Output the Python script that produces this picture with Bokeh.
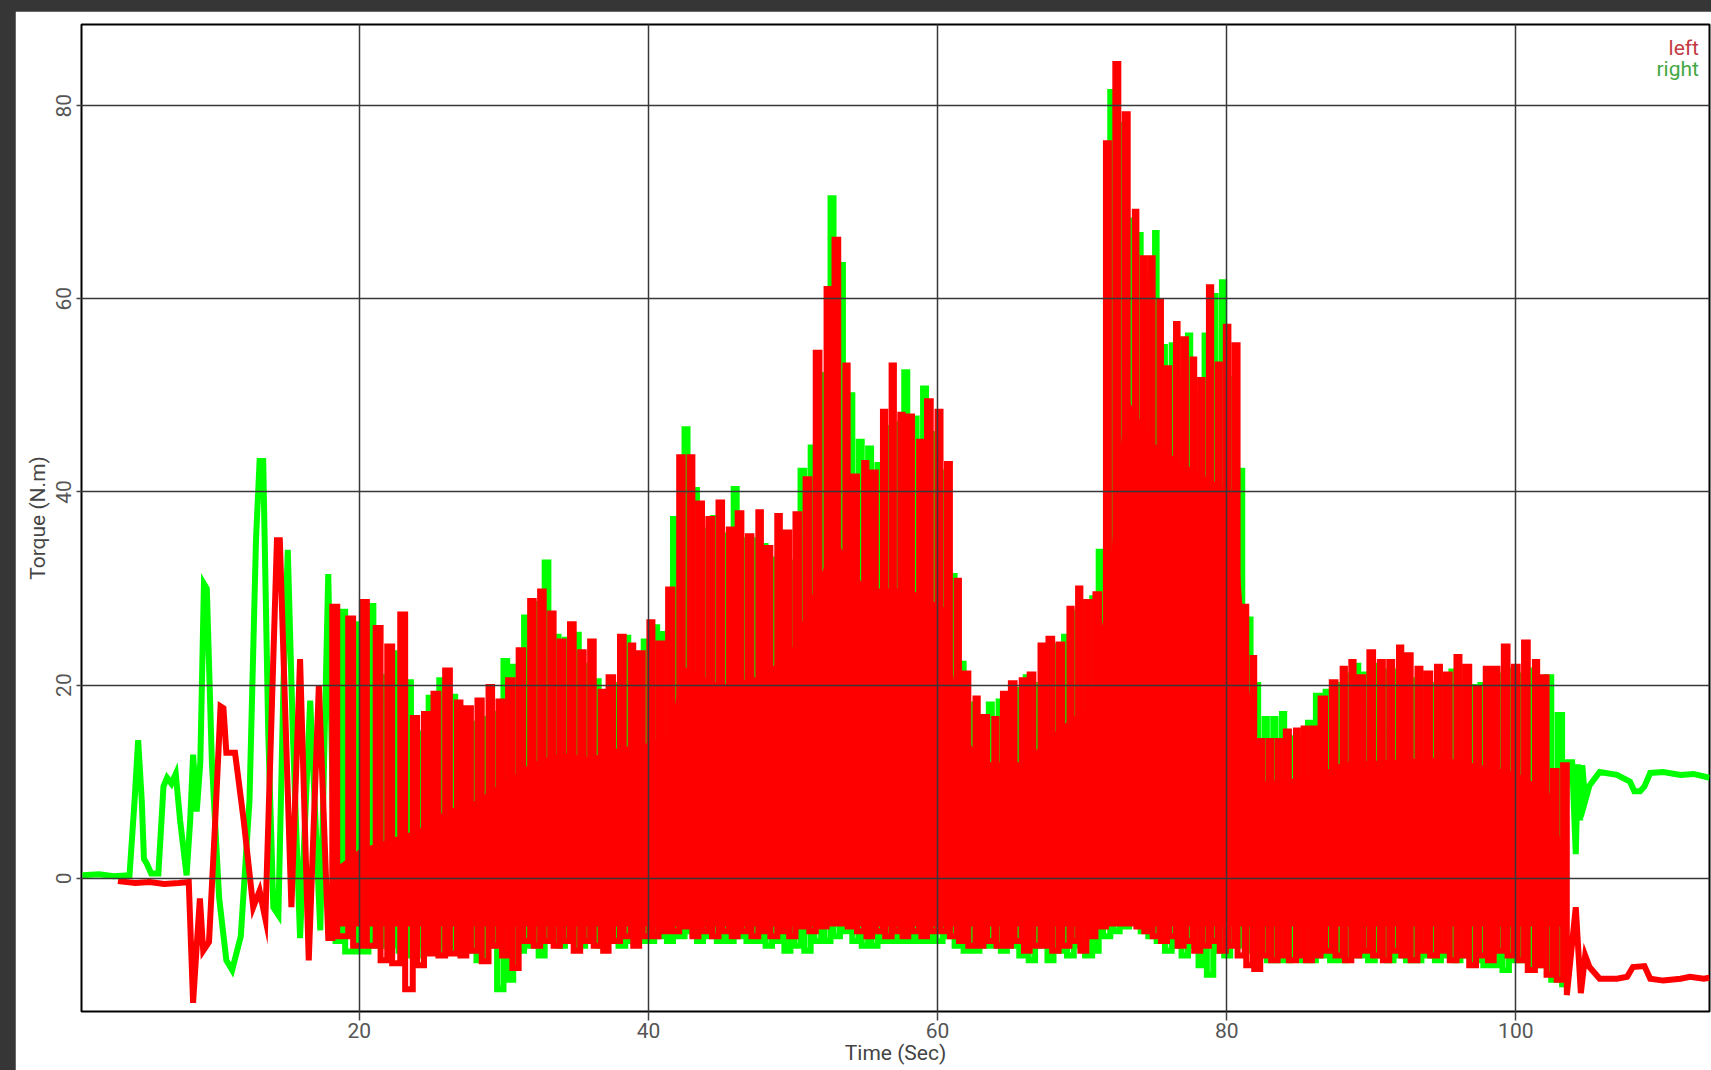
from bokeh.plotting import figure
from bokeh.models import Range1d, FixedTicker, Label
from bokeh.embed import file_html
from bokeh.resources import INLINE

# ---------------- data ----------------
# "left" (red) – slow start-up part, explicit samples
red_early_t = [3.3, 4.5, 5.5, 6.5, 7.5, 8.2, 8.5, 8.75, 8.97, 9.2, 9.6, 10.0, 10.4, 10.6,
               10.8, 11.4, 12.0, 12.66, 13.1, 13.5, 14.3, 14.5, 15.3, 15.9, 16.5, 17.2, 17.85]
red_early_v = [-0.3, -0.5, -0.4, -0.6, -0.5, -0.4, -12.9, -7.0, -2.1, -7.5, -6.6, 5.0, 17.8, 17.6,
               13.0, 13.0, 6.0, -3.0, -1.3, -4.2, 35.0, 35.0, -3.0, 22.7, -8.5, 20.0, -6.2]

# "left" (red) – walking cycles: time of each stroke, its top and its bottom
red_t = [18.3, 19.4, 20.35, 21.3, 22.1, 23.0, 23.85, 24.6, 25.3, 26.1,
         26.87, 27.56, 28.32, 29.06, 29.75, 30.44, 31.18, 31.94, 32.63, 33.32,
         34.0, 34.7, 35.4, 36.09, 36.78, 37.4, 38.16, 38.86, 39.48, 40.17,
         40.82, 41.51, 42.25, 42.94, 43.58, 44.27, 44.97, 45.66, 46.3, 47.0,
         47.69, 48.31, 49.0, 49.62, 50.3, 51.0, 51.7, 52.4, 53.0, 53.7,
         54.3, 55.0, 55.6, 56.3, 56.9, 57.5, 58.1, 58.8, 59.4, 60.1,
         60.75, 61.4, 62.0, 62.7, 63.3, 64.0, 64.6, 65.2, 65.9, 66.5,
         67.2, 67.8, 68.5, 69.2, 69.8, 70.4, 71.05, 71.75, 72.4, 73.05,
         73.7, 74.25, 74.8, 75.4, 75.95, 76.55, 77.1, 77.7, 78.25, 78.85,
         79.45, 80.03, 80.65, 81.3, 81.85, 82.4, 83.0, 83.6, 84.2, 84.85,
         85.4, 86.0, 86.65, 87.4, 88.1, 88.7, 89.3, 90.0, 90.7, 91.35,
         92.0, 92.6, 93.3, 93.95, 94.65, 95.3, 96.0, 96.65, 97.35, 98.0,
         98.6, 99.3, 100.0, 100.7, 101.4, 102.0, 102.7, 103.4]
red_peak = [28.1, 26.9, 28.6, 25.9, 24.0, 27.3, 16.6, 17.0, 19.1, 21.5,
            18.2, 17.6, 18.4, 19.8, 18.3, 20.5, 23.6, 28.7, 29.7, 27.4,
            24.5, 26.3, 23.4, 24.5, 19.3, 20.8, 25.0, 24.1, 23.3, 26.5,
            24.3, 29.9, 43.6, 43.6, 38.8, 37.2, 38.9, 36.1, 37.8, 35.4,
            37.9, 34.2, 37.5, 35.8, 37.7, 41.3, 54.4, 61.0, 66.1, 53.1,
            41.6, 43.0, 42.0, 48.3, 53.1, 48.0, 47.8, 45.2, 49.4, 48.3,
            42.9, 30.8, 21.2, 18.6, 16.7, 16.5, 19.1, 20.2, 20.5, 21.1,
            24.1, 24.8, 24.2, 27.9, 30.0, 28.6, 29.4, 76.1, 84.3, 79.1,
            69.0, 64.2, 64.2, 59.7, 52.8, 57.4, 55.8, 53.7, 51.6, 61.2,
            53.2, 57.1, 55.2, 28.1, 22.8, 14.2, 14.2, 14.2, 15.2, 15.3,
            15.5, 15.5, 18.6, 20.3, 21.7, 22.4, 20.8, 23.4, 22.4, 22.4,
            23.9, 23.1, 21.7, 21.2, 21.9, 21.1, 22.9, 21.9, 19.6, 21.7,
            21.7, 24.0, 21.9, 24.4, 22.4, 20.8, 11.1, 11.7]
red_trough = [-6.0, -7.0, -7.0, -8.5, -8.8, -11.5, -9.0, -7.8, -8.0, -7.8,
              -8.0, -7.5, -8.6, -7.0, -8.0, -9.3, -6.5, -7.0, -6.5, -7.0,
              -6.5, -7.5, -6.5, -7.0, -7.5, -6.5, -6.0, -7.0, -6.0, -6.0,
              -5.5, -5.5, -5.0, -6.0, -5.5, -6.0, -5.5, -6.0, -5.5, -6.0,
              -5.5, -6.0, -5.5, -6.0, -5.0, -5.5, -5.0, -4.5, -4.0, -5.0,
              -5.5, -6.0, -5.5, -6.0, -5.5, -6.0, -5.5, -6.0, -5.5, -5.5,
              -6.0, -6.5, -7.0, -7.0, -6.5, -7.0, -7.0, -6.5, -7.5, -7.0,
              -7.0, -7.5, -7.0, -6.5, -7.5, -6.0, -5.0, -4.5, -4.0, -4.5,
              -5.0, -5.5, -6.0, -6.5, -6.0, -7.0, -6.5, -7.5, -7.0, -6.5,
              -7.5, -7.0, -8.0, -9.0, -9.4, -8.0, -8.5, -8.0, -8.5, -8.0,
              -8.5, -8.0, -7.5, -8.0, -8.5, -8.0, -7.5, -8.0, -8.5, -7.5,
              -8.0, -8.5, -7.5, -8.0, -7.5, -8.5, -8.0, -9.0, -8.0, -8.5,
              -7.5, -8.0, -8.5, -9.5, -9.0, -10.0, -10.5, -12.1]
# level up to which the dense red trace looks solid (no gaps between strokes)
red_core_t = [18.3, 20.0, 22.0, 24.0, 26.0, 28.0, 30.0, 32.0, 34.0, 36.0,
              38.0, 40.0, 41.5, 42.3, 45.0, 48.0, 50.0, 51.5, 53.0, 55.0,
              58.0, 60.5, 61.5, 63.0, 66.0, 68.0, 70.5, 71.8, 73.0, 75.0,
              78.0, 80.5, 81.5, 82.5, 86.0, 88.0, 95.0, 100.0, 102.3, 103.4]
red_core_v = [1.0, 3.0, 4.0, 5.0, 7.0, 8.0, 10.0, 12.0, 13.0, 12.5,
              13.5, 14.0, 15.0, 22.0, 20.0, 21.0, 24.0, 30.0, 35.0, 30.0,
              30.0, 28.0, 16.0, 12.0, 12.0, 15.0, 18.0, 30.0, 50.0, 45.0,
              42.0, 40.0, 20.0, 10.0, 10.5, 12.0, 12.5, 11.0, 9.0, 2.0]
core_floor = -5.0
# "left" (red) – after stopping
red_tail_t = [104.15, 104.5, 104.8, 105.1, 105.8, 107.0, 107.7, 108.1, 108.9, 109.3,
              110.2, 111.4, 112.05, 113.0, 113.4]
red_tail_v = [-3.0, -11.9, -8.0, -9.2, -10.4, -10.4, -10.2, -9.2, -9.1, -10.4,
              -10.6, -10.4, -10.2, -10.4, -10.3]

# "right" (green) – start-up part
green_early_t = [0.85, 2.0, 3.0, 4.1, 4.45, 4.7, 4.95, 5.1, 5.3, 5.6,
                 6.1, 6.45, 6.7, 7.0, 7.3, 7.6, 8.05, 8.3, 8.5, 8.75,
                 9.0, 9.25, 9.45, 9.8, 10.3, 10.8, 11.2, 11.8, 12.4, 12.85,
                 13.1, 13.35, 13.7, 14.05, 14.4, 14.75, 15.05, 15.4, 15.9, 16.6,
                 17.3, 17.85, 18.35]
green_early_v = [0.3, 0.4, 0.2, 0.3, 8.0, 14.3, 8.0, 2.0, 1.5, 0.5,
                 0.5, 9.5, 10.4, 9.8, 10.8, 6.0, 0.3, 6.0, 12.8, 6.9,
                 12.0, 30.5, 30.0, 12.0, -2.0, -8.5, -9.5, -6.0, 8.0, 35.0,
                 43.2, 43.2, 15.0, -3.0, -3.8, 20.0, 34.0, 15.0, -6.2, 18.4,
                 -5.4, 31.5, -6.5]

# "right" (green) – walking cycles
green_t = [18.85, 19.85, 20.8, 21.7, 22.55, 23.4, 24.2, 24.95, 25.7, 26.5,
           27.2, 27.95, 28.7, 29.4, 30.1, 30.8, 31.55, 32.3, 32.95, 33.65,
           34.35, 35.05, 35.75, 36.45, 37.1, 37.8, 38.5, 39.15, 39.8, 40.5,
           41.15, 41.85, 42.6, 43.25, 43.9, 44.6, 45.3, 46.0, 46.65, 47.35,
           48.0, 48.65, 49.3, 49.95, 50.65, 51.35, 52.05, 52.7, 53.35, 54.0,
           54.65, 55.3, 55.95, 56.6, 57.2, 57.8, 58.45, 59.1, 59.75, 60.45,
           61.1, 61.7, 62.35, 63.0, 63.65, 64.3, 64.9, 65.55, 66.2, 66.85,
           67.5, 68.15, 68.85, 69.5, 70.1, 70.75, 71.3, 72.05, 72.7, 73.35,
           74.0, 74.5, 75.1, 75.65, 76.25, 76.8, 77.4, 78.0, 78.55, 79.15,
           79.75, 80.35, 81.0, 81.6, 82.1, 82.7, 83.3, 83.9, 84.5, 85.1,
           85.7, 86.3, 87.0, 87.75, 88.4, 89.0, 89.65, 90.35, 91.0, 91.65,
           92.3, 92.95, 93.6, 94.3, 94.95, 95.65, 96.3, 97.0, 97.65, 98.3,
           98.95, 99.65, 100.35, 101.05, 101.7, 102.3, 103.05]
green_peak = [27.6, 26.3, 28.2, 20.8, 23.3, 20.3, 15.0, 18.7, 20.5, 18.8,
              17.1, 16.0, 16.5, 17.0, 22.5, 21.9, 27.0, 28.4, 32.7, 25.0,
              24.7, 25.2, 22.0, 20.4, 18.5, 20.0, 24.9, 22.0, 24.5, 26.0,
              25.3, 37.2, 46.5, 40.2, 36.0, 37.3, 35.5, 40.3, 35.0, 35.0,
              34.4, 33.0, 34.5, 32.7, 42.2, 44.6, 52.1, 70.4, 63.5, 50.0,
              45.2, 44.5, 42.8, 46.6, 47.0, 52.4, 47.6, 50.7, 46.0, 42.0,
              31.3, 22.2, 18.0, 16.0, 18.0, 18.3, 18.5, 19.5, 20.8, 20.0,
              23.5, 24.0, 25.0, 27.5, 28.5, 29.0, 33.8, 81.4, 78.0, 68.1,
              66.6, 62.0, 66.8, 55.0, 55.2, 52.0, 56.2, 50.0, 56.2, 60.3,
              61.7, 51.7, 42.2, 26.8, 20.0, 16.5, 16.5, 17.0, 14.5, 14.5,
              16.1, 18.9, 19.3, 20.0, 21.0, 22.0, 21.1, 22.0, 21.4, 21.4,
              21.5, 20.5, 20.5, 20.0, 20.5, 21.4, 20.0, 19.8, 20.0, 20.5,
              21.0, 21.5, 21.0, 21.5, 20.5, 20.8, 16.9]
green_trough = [-7.6, -7.6, -7.0, -7.0, -7.5, -8.0, -7.0, -7.0, -7.5, -7.0,
                -7.5, -8.5, -7.0, -11.5, -10.5, -7.5, -7.0, -8.0, -6.5, -7.0,
                -6.5, -7.0, -6.5, -7.0, -6.5, -7.0, -6.5, -6.5, -6.5, -6.0,
                -6.5, -6.0, -5.5, -6.5, -6.0, -6.5, -6.5, -6.0, -6.5, -6.5,
                -7.0, -6.5, -7.5, -7.0, -7.5, -6.5, -6.5, -6.0, -5.5, -6.5,
                -7.0, -7.0, -6.5, -6.5, -6.5, -6.5, -6.5, -6.5, -6.5, -6.0,
                -7.0, -7.5, -7.5, -7.0, -7.0, -7.5, -7.0, -8.0, -8.5, -7.0,
                -8.5, -7.5, -8.0, -7.0, -8.0, -7.5, -6.0, -5.5, -5.0, -4.5,
                -5.5, -6.0, -6.5, -7.5, -7.0, -8.0, -7.0, -9.0, -10.0, -7.5,
                -8.0, -6.5, -7.0, -7.5, -8.0, -8.5, -8.5, -8.5, -8.0, -8.5,
                -8.5, -8.0, -8.5, -8.5, -7.5, -8.0, -8.5, -8.0, -8.5, -8.0,
                -8.5, -8.5, -8.0, -8.5, -8.0, -8.5, -8.0, -8.5, -9.0, -9.0,
                -9.5, -8.5, -8.5, -9.0, -9.0, -10.5, -11.3]
# "right" (green) – after stopping
green_tail_t = [103.55, 103.9, 104.15, 104.3, 104.45, 104.6, 104.8, 105.1, 105.8, 107.0,
                107.9, 108.2, 108.6, 108.9, 109.3, 110.2, 111.4, 112.3, 113.4]
green_tail_v = [12.0, 12.0, 2.5, 11.8, 6.0, 11.7, 8.0, 9.6, 11.0, 10.7,
                10.0, 9.0, 9.0, 9.5, 10.9, 11.0, 10.7, 10.8, 10.4]

x_ticks = [20, 40, 60, 80, 100]
y_ticks = [0, 20, 40, 60, 80]
series_names = ["left", "right"]

RED = "#ff0000"
GREEN = "#00ff00"
LINE_W = 6

# ---------------- build line paths ----------------
PX_PER_SEC = 14.46   # horizontal scale of the frame (px per second)
GAP_PX = 0.4         # hair-line gap left between neighbouring strokes


def build(early_t, early_v, cyc_t, cyc_p, cyc_q, tail_t, tail_v):
    xs = list(early_t)
    ys = list(early_v)
    prev = ys[-1]
    n = len(cyc_t)
    for i in range(n):
        t, pk, tr = cyc_t[i], cyc_p[i], cyc_q[i]
        per = (cyc_t[i + 1] - t) if i + 1 < n else (t - cyc_t[i - 1])
        hw = (PX_PER_SEC * per - LINE_W - GAP_PX) / (2 * PX_PER_SEC)
        hw = max(0.05, min(0.17, hw))
        xs += [t - hw, t - hw, t + hw, t + hw]
        ys += [prev, pk, pk, tr]
        prev = tr
    xs += list(tail_t)
    ys += list(tail_v)
    return xs, ys


rx, ry = build(red_early_t, red_early_v, red_t, red_peak, red_trough, red_tail_t, red_tail_v)
gx, gy = build(green_early_t, green_early_v, green_t, green_peak, green_trough,
               green_tail_t, green_tail_v)

# ---------------- figure ----------------
p = figure(width=1696, height=1059,
           x_range=Range1d(0.78, 113.4), y_range=Range1d(-13.8, 88.4),
           output_backend="svg", toolbar_location=None,
           min_border_left=66, min_border_right=2, min_border_top=13, min_border_bottom=59)
p.margin = (11, 0, 0, 15)
p.background_fill_color = "white"
p.border_fill_color = "white"
p.outline_line_color = "black"
p.outline_line_width = 2

p.line(gx, gy, line_color=GREEN, line_width=LINE_W, line_join="miter")
p.varea(x=red_core_t, y1=core_floor, y2=red_core_v, fill_color=RED)
p.line(rx, ry, line_color=RED, line_width=LINE_W, line_join="miter")

for g in (p.xgrid, p.ygrid):
    g.grid_line_color = "#383838"
    g.grid_line_width = 1.5
    g.level = "overlay"

p.xaxis.ticker = FixedTicker(ticks=x_ticks)
p.yaxis.ticker = FixedTicker(ticks=y_ticks)
p.xgrid.ticker = FixedTicker(ticks=x_ticks)
p.ygrid.ticker = FixedTicker(ticks=y_ticks)

for ax in (p.xaxis, p.yaxis):
    ax.axis_line_color = None
    ax.minor_tick_line_color = None
    ax.major_tick_in = 0
    ax.major_tick_line_color = "#444444"
    ax.major_tick_line_width = 1.5
    ax.major_label_text_font = "Roboto"
    ax.major_label_text_font_size = "21px"
    ax.major_label_text_color = "#555555"
    ax.axis_label_text_font = "Roboto"
    ax.axis_label_text_font_size = "21px"
    ax.axis_label_text_font_style = "normal"
    ax.axis_label_text_color = "#444444"

p.xaxis.axis_label = "Time (Sec)"
p.xaxis.major_tick_out = 9
p.xaxis.major_label_standoff = 2
p.xaxis.axis_label_standoff = 0

p.yaxis.axis_label = "Torque (N.m)"
p.yaxis.major_tick_out = 5
p.yaxis.major_label_standoff = 5
p.yaxis.major_label_orientation = "vertical"
p.yaxis.axis_label_standoff = 4

p.add_layout(Label(x=112.67, y=86.0, text=series_names[0], text_align="right",
                   text_baseline="alphabetic", text_color="#c23b45",
                   text_font="Roboto", text_font_size="21px"))
p.add_layout(Label(x=112.67, y=83.75, text=series_names[1], text_align="right",
                   text_baseline="alphabetic", text_color="#44a844",
                   text_font="Roboto", text_font_size="21px"))

html = file_html(p, INLINE, title="Torque")
html = html.replace("</head>",
                    "<style>html,body{background:#363636;overflow:hidden;}</style></head>", 1)
open("out.html", "w").write(html)
